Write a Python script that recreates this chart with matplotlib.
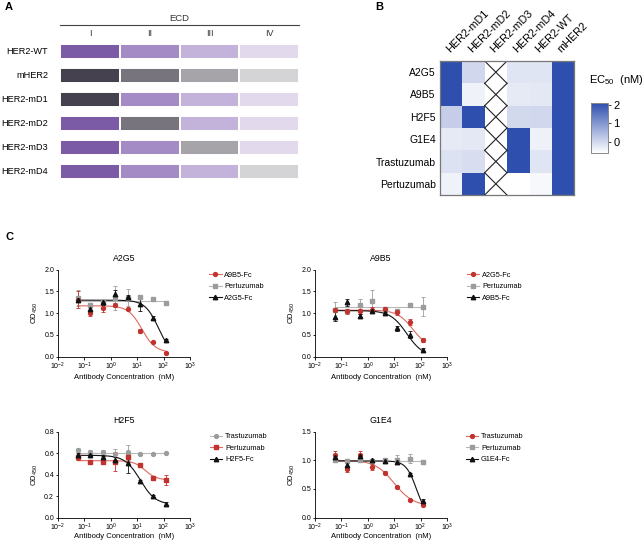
import numpy as np
import matplotlib
matplotlib.use("Agg")
import matplotlib.pyplot as plt
import matplotlib.colors as mcolors
import matplotlib.lines as mlines

plt.rcParams.update({
    "font.family": ["Liberation Sans", "DejaVu Sans"],
    "axes.linewidth": 0.6,
    "xtick.major.width": 0.6,
    "ytick.major.width": 0.6,
    "mathtext.default": "regular",
})

W, H = 643, 541

# ---------------- panel A: construct layout ----------------
constructs = ["HER2-WT", "mHER2", "HER2-mD1", "HER2-mD2", "HER2-mD3", "HER2-mD4"]
domains = ["I", "II", "III", "IV"]
# 1 = human HER2 domain (purple), 0 = mouse domain (grey)
human_domain = [
    [1, 1, 1, 1],
    [0, 0, 0, 0],
    [0, 1, 1, 1],
    [1, 0, 1, 1],
    [1, 1, 0, 1],
    [1, 1, 1, 0],
]
purple = ["#7b5aa6", "#a58bc5", "#c3b2da", "#e2d9ed"]
grey = ["#45414f", "#77747d", "#a6a4a8", "#d4d3d5"]

# ---------------- panel B: EC50 heatmap ----------------
antibodies = ["A2G5", "A9B5", "H2F5", "G1E4", "Trastuzumab", "Pertuzumab"]
targets = ["HER2-mD1", "HER2-mD2", "HER2-mD3", "HER2-mD4", "HER2-WT", "mHER2"]
nan = np.nan
ec50 = [
    [2.1, 0.0, nan, -0.2, -0.2, 2.1],
    [2.1, -0.4, nan, -0.28, -0.25, 2.1],
    [0.15, 2.1, nan, -0.03, 0.0, 2.1],
    [-0.28, -0.25, nan, 2.1, -0.38, 2.1],
    [-0.15, -0.1, nan, 2.1, -0.2, 2.1],
    [-0.4, 2.1, nan, -0.6, -0.5, 2.1],
]
crossed_col = 2

# ---------------- panel C: competition ELISA ----------------
conc = [0.0549, 0.165, 0.494, 1.48, 4.44, 13.3, 40.0, 120.0]

a2g5_names = ["A9B5-Fc", "Pertuzumab", "A2G5-Fc"]
a2g5_vals = [
    [1.31, 1.0, 1.115, 1.19, 1.1, 0.59, 0.33, 0.09],
    [1.35, 1.18, 1.26, 1.35, 1.36, 1.37, 1.33, 1.23],
    [1.3, 1.1, 1.25, 1.44, 1.37, 1.22, 0.9, 0.38],
]
a2g5_errs = [
    [0.2, 0.07, 0.08, 0.05, 0.02, 0.04, 0.02, 0.02],
    [0.18, 0.05, 0.05, 0.27, 0.2, 0.05, 0.03, 0.03],
    [0.05, 0.05, 0.05, 0.1, 0.05, 0.17, 0.04, 0.02],
]
# top, bottom, IC50, hill
a2g5_fits = [(1.17, 0.1, 15, 1.7), (1.28, 1.28, 1, 1), (1.3, 0.0, 65, 1.7)]

a9b5_names = ["A2G5-Fc", "Pertuzumab", "A9B5-Fc"]
a9b5_vals = [
    [1.08, 1.04, 1.04, 1.08, 1.1, 1.02, 0.79, 0.38],
    [1.08, 1.04, 1.18, 1.28, 1.1, 1.05, 1.19, 1.15],
    [0.92, 1.25, 0.94, 1.05, 1.0, 0.65, 0.5, 0.15],
]
a9b5_errs = [
    [0.05, 0.05, 0.06, 0.06, 0.03, 0.05, 0.07, 0.05],
    [0.18, 0.04, 0.15, 0.25, 0.03, 0.03, 0.05, 0.22],
    [0.1, 0.08, 0.05, 0.03, 0.03, 0.05, 0.08, 0.04],
]
a9b5_fits = [(1.07, 0.2, 50, 1.5), (1.14, 1.14, 1, 1), (1.06, 0.0, 30, 1.4)]

h2f5_names = ["Trastuzumab", "Pertuzumab", "H2F5-Fc"]
h2f5_vals = [
    [0.63, 0.61, 0.61, 0.59, 0.61, 0.59, 0.59, 0.6],
    [0.56, 0.52, 0.52, 0.52, 0.56, 0.49, 0.37, 0.35],
    [0.585, 0.585, 0.56, 0.54, 0.505, 0.34, 0.2, 0.13],
]
h2f5_errs = [
    [0.02, 0.02, 0.02, 0.05, 0.07, 0.01, 0.01, 0.01],
    [0.02, 0.01, 0.02, 0.09, 0.04, 0.01, 0.02, 0.05],
    [0.02, 0.01, 0.01, 0.02, 0.09, 0.01, 0.01, 0.01],
]
h2f5_fits = [(0.6, 0.6, 1, 1), (0.53, 0.35, 20, 2.0), (0.58, 0.12, 13, 1.5)]

g1e4_names = ["Trastuzumab", "Pertuzumab", "G1E4-Fc"]
g1e4_vals = [
    [1.1, 0.84, 1.1, 0.88, 0.785, 0.53, 0.31, 0.22],
    [1.0, 0.99, 1.0, 0.99, 1.0, 1.01, 1.03, 0.97],
    [1.05, 0.91, 1.07, 1.0, 0.98, 0.97, 0.76, 0.29],
]
g1e4_errs = [
    [0.06, 0.04, 0.06, 0.05, 0.02, 0.02, 0.02, 0.02],
    [0.03, 0.03, 0.03, 0.03, 0.03, 0.08, 0.08, 0.02],
    [0.04, 0.04, 0.04, 0.03, 0.03, 0.03, 0.02, 0.03],
]
g1e4_fits = [(1.0, 0.2, 10, 1.2), (0.99, 0.99, 1, 1), (0.99, 0.0, 70, 2.2)]

RED, RED_LINE = "#c0332e", "#de6a5e"
GRAY, GRAY_LINE = "#9c9c9c", "#b8b8b8"
BLACK = "#111111"
MARKERS = {"Pertuzumab": "s", "Trastuzumab": "o"}


def px_rect(x0, y0, x1, y1):
    return [x0 / W, 1 - y1 / H, (x1 - x0) / W, (y1 - y0) / H]


def four_pl(x, top, bottom, ic50, hill):
    return bottom + (top - bottom) / (1 + (x / ic50) ** hill)


fig = plt.figure(figsize=(W / 100, H / 100), dpi=100)

# ---- panel A ----
axA = fig.add_axes(px_rect(60.3, 44.3, 299, 179.3))
for r, row in enumerate(human_domain):
    for c, is_human in enumerate(row):
        col = purple[c] if is_human else grey[c]
        axA.barh(r, 1, left=c, height=0.625, color=col, edgecolor="white", linewidth=1.4)
axA.set_xlim(0, 4)
axA.set_ylim(5.3125, -0.3125)
axA.axis("off")
for r, name in enumerate(constructs):
    axA.text(-0.2, r, name, ha="right", va="center", fontsize=6.6, clip_on=False)
for c, d in enumerate(domains):
    axA.text(c + 0.5, -0.77, d, ha="center", va="center", fontsize=6.5, color="#333333", clip_on=False)
axA.plot([0, 4], [-1.12, -1.12], color="#444444", lw=0.8, clip_on=False)
axA.text(2, -1.38, "ECD", ha="center", va="center", fontsize=6.8, color="#333333", clip_on=False)

# ---- panel B ----
axB = fig.add_axes(px_rect(440, 61, 574, 195))
cmap = mcolors.LinearSegmentedColormap.from_list("ec50", ["white", "#2f4fae"])
cmap.set_bad("white")
data = np.ma.masked_invalid(np.array(ec50))
im = axB.imshow(data, cmap=cmap, vmin=-0.6, vmax=2.1, aspect="auto", interpolation="nearest")
for r in range(len(antibodies)):
    axB.plot([crossed_col - 0.5, crossed_col + 0.5], [r - 0.5, r + 0.5], color="#222222", lw=0.8)
    axB.plot([crossed_col - 0.5, crossed_col + 0.5], [r + 0.5, r - 0.5], color="#222222", lw=0.8)
axB.set_xlim(-0.5, 5.5)
axB.set_ylim(5.5, -0.5)
axB.xaxis.tick_top()
axB.set_xticks(range(len(targets)))
axB.set_xticklabels(targets, rotation=45, ha="left", rotation_mode="anchor", fontsize=7.8)
axB.set_yticks(range(len(antibodies)))
axB.set_yticklabels(antibodies, fontsize=7.5)
axB.tick_params(axis="x", length=0, pad=5)
axB.tick_params(axis="y", length=0, pad=3)
for s in axB.spines.values():
    s.set_color("#777777")
    s.set_linewidth(0.9)

cax = fig.add_axes(px_rect(591, 103, 608, 153))
cb = fig.colorbar(im, cax=cax, ticks=[0, 1, 2])
cb.outline.set_edgecolor("#888888")
cb.outline.set_linewidth(0.7)
cax.tick_params(labelsize=8, length=2, width=0.5, pad=2)
fig.text(616 / W, 1 - 80 / H, "EC$_{50}$  (nM)", ha="center", va="center", fontsize=8)

# ---- panel C ----
panels = [
    ("A2G5", a2g5_names, a2g5_vals, a2g5_errs, a2g5_fits, ["red", "gray", "black"],
     (58, 269.7, 190, 356.7), (2.0, [0, 0.5, 1.0, 1.5, 2.0], "%.1f"), (209, 271.5), 1.5),
    ("A9B5", a9b5_names, a9b5_vals, a9b5_errs, a9b5_fits, ["red", "gray", "black"],
     (315, 269.7, 447, 356.7), (2.0, [0, 0.5, 1.0, 1.5, 2.0], "%.1f"), (466.5, 271.5), 1.5),
    ("H2F5", h2f5_names, h2f5_vals, h2f5_errs, h2f5_fits, ["gray", "red", "black"],
     (58, 431.7, 190, 517.5), (0.8, [0, 0.2, 0.4, 0.6, 0.8], "%.1f"), (209.5, 433), 0.3),
    ("G1E4", g1e4_names, g1e4_vals, g1e4_errs, g1e4_fits, ["red", "gray", "black"],
     (315, 431.7, 447, 517.5), (1.5, [0, 0.5, 1.0, 1.5], "%.1f"), (465.5, 433), 0.3),
]
colors = {"red": (RED, RED_LINE), "gray": (GRAY, GRAY_LINE), "black": (BLACK, BLACK)}
xfit = np.logspace(np.log10(conc[0]), np.log10(conc[-1]), 200)

for title, names, vals, errs, fits, roles, rect, (ymax, yticks, yfmt), leg_xy, xpad in panels:
    ax = fig.add_axes(px_rect(*rect))
    handles = []
    order = sorted(range(3), key=lambda i: ["gray", "red", "black"].index(roles[i]))
    for i in order:
        mcol, lcol = colors[roles[i]]
        marker = MARKERS.get(names[i], "^" if roles[i] == "black" else "o")
        ms = 3.2 if marker == "^" else 2.8
        ax.plot(xfit, four_pl(xfit, *fits[i]), color=lcol, lw=0.8, zorder=2)
        ax.errorbar(conc, vals[i], yerr=errs[i], fmt=marker, color=mcol, ms=ms,
                    elinewidth=0.6, capsize=1.5, capthick=0.6, zorder=3)
    for i in range(3):
        mcol, lcol = colors[roles[i]]
        marker = MARKERS.get(names[i], "^" if roles[i] == "black" else "o")
        handles.append(mlines.Line2D([], [], color=lcol, lw=0.8, marker=marker,
                                     markerfacecolor=mcol, markeredgecolor=mcol,
                                     ms=3.2 if marker == "^" else 2.8, label=names[i]))
    ax.set_xscale("log")
    ax.set_xlim(1e-2, 1e3)
    ax.set_xticks([1e-2, 1e-1, 1e0, 1e1, 1e2, 1e3])
    ax.xaxis.set_minor_locator(matplotlib.ticker.NullLocator())
    ax.set_ylim(0, ymax)
    ax.set_yticks(yticks)
    ax.yaxis.set_major_formatter(matplotlib.ticker.FormatStrFormatter(yfmt))
    for s in ("top", "right"):
        ax.spines[s].set_visible(False)
    ax.tick_params(labelsize=5, length=1.8, pad=1)
    ax.set_title(title, fontsize=6.3, pad=6)
    ax.set_ylabel("OD$_{450}$", fontsize=5.5, labelpad=3)
    ax.set_xlabel("Antibody Concentration  (nM)", fontsize=5.5, labelpad=xpad)
    ax.legend(handles=handles, loc="upper left",
              bbox_to_anchor=(leg_xy[0] / W, 1 - leg_xy[1] / H), bbox_transform=fig.transFigure,
              frameon=False, fontsize=5.3, handlelength=1.7, handletextpad=0.4,
              labelspacing=0.6, borderpad=0, borderaxespad=0)

fig.text(5 / W, 1 - 7 / H, "A", fontsize=8, fontweight="bold", ha="left", va="center")
fig.text(375 / W, 1 - 7 / H, "B", fontsize=8, fontweight="bold", ha="left", va="center")
fig.text(5 / W, 1 - 237 / H, "C", fontsize=8, fontweight="bold", ha="left", va="center")

fig.savefig("out.png", dpi=100)
